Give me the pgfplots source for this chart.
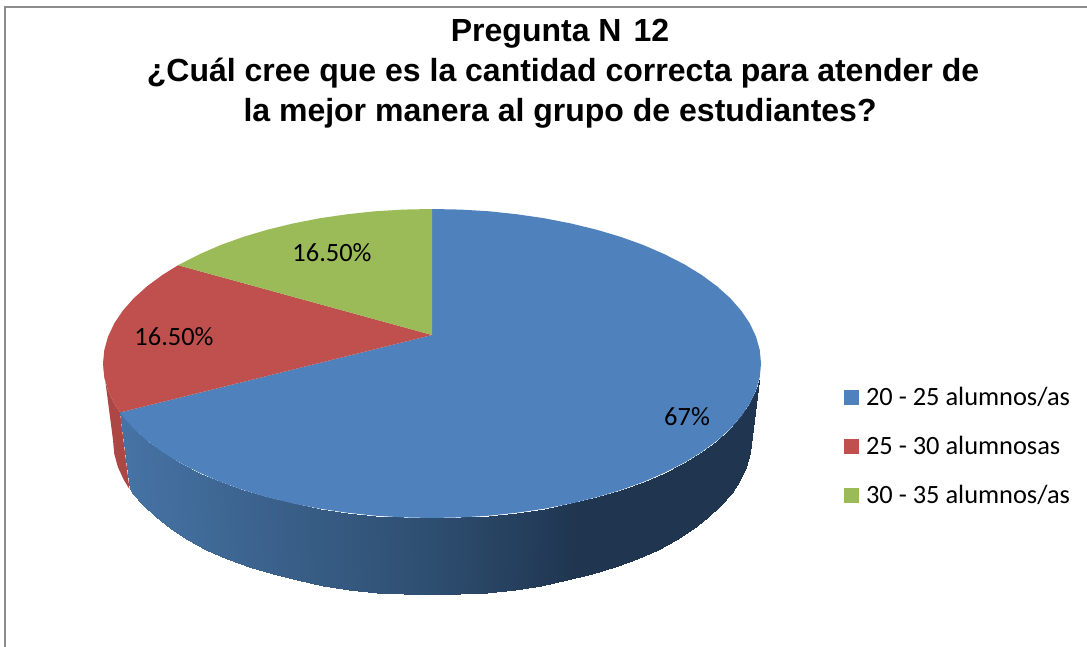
\documentclass[border=0pt]{standalone}
\usepackage{pgfplots}
\pgfplotsset{compat=1.18}
\usepackage{pgfplotstable}
\usepackage{fontspec}
\setmainfont{Carlito}
\newfontfamily\titlefont{Liberation Sans}
\definecolor{cblue}{HTML}{4F81BD}
\definecolor{cred}{HTML}{C0504D}
\definecolor{cgreen}{HTML}{9BBB59}
\definecolor{credside}{HTML}{AC4745}
\definecolor{frameg}{HTML}{8C8C8C}
\pgfplotstableread{
x y c
-312 -49 -307
-309.2 -52.8 -305
-298.2 -65.3 -294
-284.9 -77.25 -281
-269.5 -88.6 -265
-252 -99.3 -248
-232.6 -109.2 -229
-211.5 -118.4 -208
-188.7 -126.6 -186
-164.5 -133.8 -162
-139 -140 -137
-112.5 -145.2 -111
-85.1 -149.2 -84
-57.1 -152.2 -56
-28.7 -153.9 -28
0 -154.5 0
28.7 -153.9 28
57.1 -152.2 56
85.1 -149.2 84
112.5 -145.2 111
139 -140 137
164.5 -133.8 162
188.7 -126.6 186
211.5 -118.4 208
232.6 -109.2 229
252 -99.3 248
269.5 -88.6 265
284.9 -77.25 281
298.2 -65.3 294
309.2 -52.8 305
317.8 -40 313
324 -26.8 319
325.8 -21.5 322
327.2 -16.1 323
-302.5 -125.7 -307
-299.8 -129.5 -305
-289.1 -142 -294
-276.3 -154 -281
-261.3 -165.4 -265
-244.4 -176.1 -248
-225.6 -186.1 -229
-205 -195.2 -208
-183 -203.5 -186
-159.5 -210.7 -162
-134.8 -217 -137
-109.1 -222.2 -111
-82.6 -226.2 -84
-55.4 -229.1 -56
-27.8 -230.9 -28
0 -231.5 0
27.8 -230.9 28
55.4 -229.1 56
82.6 -226.2 84
109.1 -222.2 111
134.8 -217 137
159.5 -210.7 162
183 -203.5 186
205 -195.2 208
225.6 -186.1 229
244.4 -176.1 248
261.3 -165.4 265
276.3 -154 281
289.1 -142 294
299.8 -129.5 305
308.1 -116.6 313
314.2 -103.4 319
317.8 -90 322
319 -76.5 323
}\sidetable
\begin{document}
\begin{tikzpicture}
\useasboundingbox (0,0) rectangle (1087pt,647pt);
\begin{axis}[
  at={(0,0)}, anchor=south west,
  width=1087pt, height=647pt, scale only axis,
  xmin=-432, xmax=655, ymin=-283.5, ymax=363.5,
  hide axis, clip=false,
  colormap={sideshade}{rgb255(0pt)=(70,115,165); rgb255(484pt)=(46,78,112); rgb255(714pt)=(31,53,80); rgb255(1000pt)=(31,53,80)},
  point meta min=-310, point meta max=330,
  legend style={at={(axis cs:412,-26)}, anchor=north west, draw=none, fill=none,
    inner sep=0pt, outer sep=0pt, row sep=22.8pt,
    font=\fontsize{26.4}{28}\selectfont,
    nodes={inner sep=0pt, text height=16pt, text depth=10pt}},
  legend cell align=left,
  legend image code/.code={\fill[#1,draw=none] (0pt,-3pt) rectangle (15pt,12pt); \path (22pt,0pt);},
]
% frame
\addplot[frameg, line width=1.5pt, forget plot] coordinates {(-427,-283.5) (-427,356.5) (655,356.5)};
% red side
\addplot[fill=credside, draw=none, forget plot] coordinates {
(-329,0) (-327.2,-16.1) (-324,-26.8) (-317.8,-40) (-312,-49) (-302.5,-125.7) (-308.1,-116.6) (-314.2,-103.4) (-317.8,-90) (-319,-76.5)} --cycle;
% blue side
\addplot[surf, shader=interp, mesh/rows=2, point meta=\thisrow{c}, forget plot] table[x=x,y=y] {\sidetable};
% blue top
\addplot[fill=cblue, draw=none] coordinates {
(0,28.5) (0,154.5) (28.7,153.9) (57.1,152.2) (85.1,149.2) (112.5,145.2) (139,140) (164.5,133.8) (188.7,126.6) (211.5,118.4) (232.6,109.2) (252,99.3) (269.5,88.6) (284.9,77.25) (298.2,65.3) (309.2,52.8) (317.8,40) (324,26.8) (327.7,13.5) (329,0)
(327.7,-13.5) (324,-26.8) (317.8,-40) (309.2,-52.8) (298.2,-65.3) (284.9,-77.25) (269.5,-88.6) (252,-99.3) (232.6,-109.2) (211.5,-118.4) (188.7,-126.6) (164.5,-133.8) (139,-140) (112.5,-145.2) (85.1,-149.2) (57.1,-152.2) (28.7,-153.9) (0,-154.5)
(-28.7,-153.9) (-57.1,-152.2) (-85.1,-149.2) (-112.5,-145.2) (-139,-140) (-164.5,-133.8) (-188.7,-126.6) (-211.5,-118.4) (-232.6,-109.2) (-252,-99.3) (-269.5,-88.6) (-284.9,-77.25) (-298.2,-65.3) (-309.2,-52.8) (-312,-49)} --cycle;
\addlegendentry{20 - 25 alumnos/as}
% red top
\addplot[fill=cred, draw=none] coordinates {
(0,28.5) (-312,-49) (-317.8,-40) (-324,-26.8) (-327.7,-13.5) (-329,0) (-327.7,13.5) (-324,26.8) (-317.8,40) (-309.2,52.8) (-298.2,65.3) (-284.9,77.25) (-269.5,88.6) (-253.9,98.3)} --cycle;
\addlegendentry{25 - 30 alumnosas}
% green top
\addplot[fill=cgreen, draw=none] coordinates {
(0,28.5) (-253.9,98.3) (-232.6,109.2) (-211.5,118.4) (-188.7,126.6) (-164.5,133.8) (-139,140) (-112.5,145.2) (-85.1,149.2) (-57.1,152.2) (-28.7,153.9) (0,154.5)} --cycle;
\addlegendentry{30 - 35 alumnos/as}
\node[font=\fontsize{26.4}{28}\selectfont] at (axis cs:-100,110.5) {16.50\%};
\node[font=\fontsize{26.4}{28}\selectfont] at (axis cs:-258,26.5) {16.50\%};
\node[font=\fontsize{26.4}{28}\selectfont] at (axis cs:255,-53.5) {67\%};
\node[align=center, font=\titlefont\bfseries\fontsize{32}{40}\selectfont] at (axis cs:131,290)
  {Pregunta N\hspace{12pt}12\rule{6pt}{0pt}\\¿Cuál cree que es la cantidad correcta para atender de\\la mejor manera al grupo de estudiantes?\rule{6pt}{0pt}};
\end{axis}
\end{tikzpicture}
\end{document}
